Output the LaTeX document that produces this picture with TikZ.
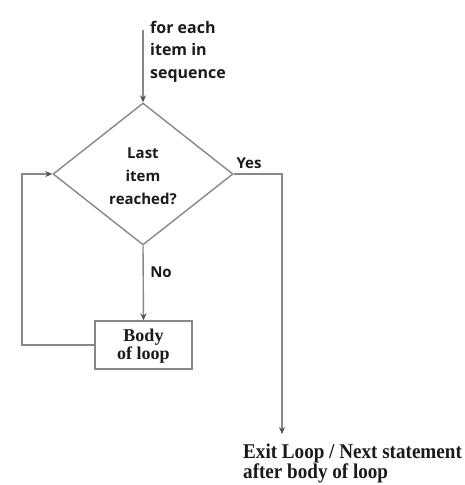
\documentclass[tikz,border=0pt]{standalone}
\usepackage{fontspec}
\setmainfont{Liberation Serif}
\newfontfamily\opensans{Open Sans}
\usetikzlibrary{shapes.geometric,arrows.meta}
\definecolor{linegray}{HTML}{888888}
\definecolor{tipgray}{HTML}{505050}
\definecolor{txt}{HTML}{1A1A1A}
\begin{document}
\begin{tikzpicture}[x=1pt,y=-1pt,
  conn/.style={draw=linegray,line width=1.4pt,-{Stealth[length=7pt,width=6pt,color=tipgray]}},
  sanslbl/.style={font=\opensans\bfseries\fontsize{15}{23}\selectfont,text=txt,inner sep=0pt},
  seriflbl/.style={font=\bfseries\fontsize{18}{16.5}\selectfont,text=txt,inner sep=0pt},
  decision/.style={diamond,draw=linegray,line width=1.4pt,minimum width=180pt,minimum height=142pt,inner sep=0pt},
  bodybox/.style={rectangle,draw=linegray,line width=1.4pt,minimum width=97pt,minimum height=48pt,inner sep=0pt}]
\useasboundingbox (0,0) rectangle (465,485);
\coordinate (start) at (143,30);
\node[sanslbl,font=\opensans\bfseries\fontsize{16}{22.5}\selectfont,align=left,anchor=north west] (seq) at (150,21) {for each\\item in\\sequence};
\node[decision] (dec) at (143,174) {};
\node[sanslbl,align=center] (dectext) at (143,176) {Last\\item\\reached?};
\node[bodybox] (body) at (143.5,345) {};
\node[seriflbl,align=center] (bodytext) at (143.5,346) {Body\\of loop};
\node[sanslbl] (yes) at (249,163) {Yes};
\node[sanslbl] (no) at (161,272) {No};
\coordinate (ycorner) at (282,174);
\coordinate (exitpt) at (282,434);
\coordinate (lcorner1) at (22,345);
\coordinate (lcorner2) at (22,174);
\node[text=txt,inner sep=0pt,anchor=base west] (exit) at (243,458)
  {\scalebox{0.91}[1]{\bfseries\fontsize{21}{20}\selectfont\begin{tabular}[t]{@{}l@{}}Exit Loop / Next statement\\after body of loop\end{tabular}}};
\draw[conn] (start) -- (dec.north);
\draw[conn] (dec.south) -- (body.north);
\draw[conn] (dec.east) -- (ycorner) -- (exitpt);
\draw[conn] (body.west) -- (lcorner1) -- (lcorner2) -- (dec.west);
\end{tikzpicture}
\end{document}
